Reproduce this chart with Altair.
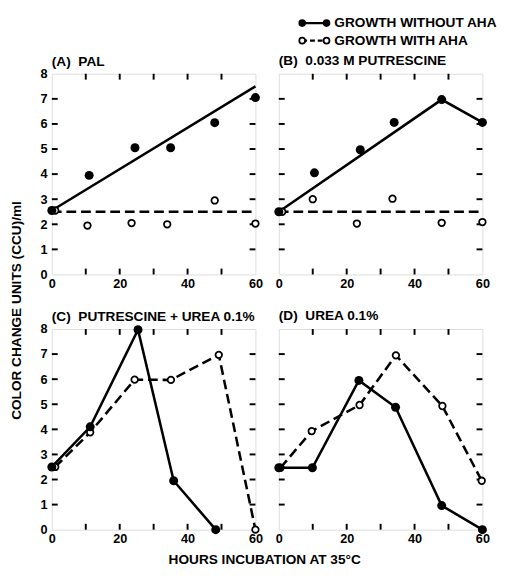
import altair as alt
import pandas as pd

FONT = "Liberation Sans"

# ---- data ----
x_ticks = [0, 10, 20, 30, 40, 50, 60]
x_labels = [0, 20, 40, 60]
y_ticks = [0, 1, 2, 3, 4, 5, 6, 7, 8]

NB = "\u00a0"
panel_titles = ["(A)" + NB * 2 + "PAL", "(B)" + NB * 2 + "0.033 M PUTRESCINE",
                "(C)" + NB * 2 + "PUTRESCINE + UREA 0.1%", "(D)" + NB * 2 + "UREA 0.1%"]

# growth without AHA (filled circles)
a_wo_x = [0, 11, 24.5, 35, 48, 60]
a_wo_y = [2.55, 3.95, 5.05, 5.05, 6.05, 7.05]
b_wo_x = [0, 10.5, 24, 34, 48, 60]
b_wo_y = [2.5, 4.05, 4.97, 6.06, 6.97, 6.06]
c_wo_x = [0, 11.3, 25.4, 35.9, 48.3]
c_wo_y = [2.5, 4.1, 7.97, 1.95, 0]
d_wo_x = [0, 9.9, 23.6, 34.4, 48, 60]
d_wo_y = [2.47, 2.47, 5.95, 4.88, 0.96, 0]

# growth with AHA (open circles)
a_w_x = [1, 10.5, 23.5, 34, 48, 60]
a_w_y = [2.55, 1.95, 2.05, 2.0, 2.95, 2.03]
b_w_x = [1, 10, 23, 33.5, 48, 60]
b_w_y = [2.5, 3.0, 2.03, 3.02, 2.06, 2.09]
c_w_x = [1, 11.3, 24.4, 35.1, 49.2, 60]
c_w_y = [2.5, 3.88, 5.98, 5.97, 6.97, 0]
d_w_x = [0.5, 9.7, 23.8, 34.5, 48.2, 59.8]
d_w_y = [2.47, 3.93, 4.97, 6.95, 4.93, 1.95]

# solid curves (fitted in A and B, connecting points in C and D)
a_solid_x = [0, 60]
a_solid_y = [2.55, 7.5]
b_solid_x = [0, 48, 60]
b_solid_y = [2.5, 6.97, 6.06]
c_solid_x, c_solid_y = c_wo_x, c_wo_y
d_solid_x, d_solid_y = d_wo_x, d_wo_y

# dashed curves
a_dash_x = [0, 60]
a_dash_y = [2.5, 2.5]
b_dash_x = [0, 60]
b_dash_y = [2.5, 2.5]
c_dash_x, c_dash_y = c_w_x, c_w_y
d_dash_x, d_dash_y = d_w_x, d_w_y

legend_labels = ["GROWTH WITHOUT AHA", "GROWTH WITH AHA"]

x_title = "HOURS INCUBATION AT 35°C"
y_title = "COLOR CHANGE UNITS (CCU)/ml"

# ---- build tables ----
src = {
    "A": (a_wo_x, a_wo_y, a_w_x, a_w_y, a_solid_x, a_solid_y, a_dash_x, a_dash_y),
    "B": (b_wo_x, b_wo_y, b_w_x, b_w_y, b_solid_x, b_solid_y, b_dash_x, b_dash_y),
    "C": (c_wo_x, c_wo_y, c_w_x, c_w_y, c_solid_x, c_solid_y, c_dash_x, c_dash_y),
    "D": (d_wo_x, d_wo_y, d_w_x, d_w_y, d_solid_x, d_solid_y, d_dash_x, d_dash_y),
}

W, H = 209, 206
TICK = 6
LBL = 13

xtick_df = pd.DataFrame({"x": x_ticks[1:-1]})
ytick_df = pd.DataFrame({"y": y_ticks[1:-1]})


def xenc():
    return alt.X("x:Q", scale=alt.Scale(domain=[0, 60], nice=False, zero=False),
                 axis=alt.Axis(values=x_labels, tickSize=0, domain=False, grid=False,
                               title=None, labelFont=FONT, labelFontWeight="bold",
                               labelFontSize=LBL, labelColor="black", labelPadding=3,
                               labelFlush=False))


def yenc(show):
    if show:
        ax = alt.Axis(values=y_ticks, tickSize=0, domain=False, grid=False, title=None,
                      labelFont=FONT, labelFontWeight="bold", labelFontSize=LBL,
                      labelColor="black", labelPadding=5, labelFlush=False)
        return alt.Y("y:Q", scale=alt.Scale(domain=[0, 8], nice=False), axis=ax)
    return alt.Y("y:Q", scale=alt.Scale(domain=[0, 8], nice=False), axis=None)


def panel(pid, title, show_y):
    wo_x, wo_y, w_x, w_y, s_x, s_y, d_x, d_y = src[pid]
    wo = pd.DataFrame({"x": wo_x, "y": wo_y})
    w = pd.DataFrame({"x": w_x, "y": w_y})
    sl = pd.DataFrame({"x": s_x, "y": s_y})
    dl = pd.DataFrame({"x": d_x, "y": d_y})

    solid = alt.Chart(sl).mark_line(color="black", strokeWidth=2.6).encode(
        x=xenc(), y=yenc(show_y))
    dashed = alt.Chart(dl).mark_line(color="black", strokeWidth=2.6,
                                     strokeDash=[10, 5]).encode(x=xenc(), y=yenc(show_y))
    filled = alt.Chart(wo).mark_point(filled=True, color="black", size=85,
                                      opacity=1).encode(x=xenc(), y=yenc(show_y))
    openp = alt.Chart(w).mark_point(shape="circle", fill="white", fillOpacity=1,
                                    stroke="black", strokeWidth=1.8, size=45,
                                    opacity=1).encode(x=xenc(), y=yenc(show_y))
    bt = alt.Chart(xtick_df).mark_rule(color="black", strokeWidth=2).encode(
        x=xenc(), y=alt.value(H), y2=alt.value(H - TICK))
    tt = alt.Chart(xtick_df).mark_rule(color="black", strokeWidth=2).encode(
        x=xenc(), y=alt.value(0), y2=alt.value(TICK))
    lt = alt.Chart(ytick_df).mark_rule(color="black", strokeWidth=2).encode(
        y=yenc(show_y), x=alt.value(0), x2=alt.value(TICK))
    rt = alt.Chart(ytick_df).mark_rule(color="black", strokeWidth=2).encode(
        y=yenc(show_y), x=alt.value(W), x2=alt.value(W - TICK))

    if show_y:
        tp = alt.TitleParams(title, anchor="start", frame="group", font=FONT,
                             fontSize=14, fontWeight="bold", color="black",
                             offset=0, dy=1)
    else:
        tp = alt.TitleParams(title, anchor="start", frame="group", font=FONT,
                             fontSize=14, fontWeight="bold", color="black", offset=5)
    return alt.layer(bt, tt, lt, rt, dashed, solid, openp, filled).properties(
        width=W, height=H, title=tp)


pA = panel("A", panel_titles[0], True)
pB = panel("B", panel_titles[1], False)
pC = panel("C", panel_titles[2], True)
pD = panel("D", panel_titles[3], False)

row1 = alt.hconcat(pA, pB, spacing=10)
row2 = alt.hconcat(pC, pD, spacing=10)
grid = alt.vconcat(row1, row2, spacing=18).properties(
    title=alt.TitleParams(x_title, orient="bottom", anchor="middle", font=FONT,
                          fontSize=14, fontWeight="bold", color="black", offset=8))

wrapped = alt.hconcat(grid).properties(
    title=alt.TitleParams(y_title, orient="left", anchor="middle", font=FONT,
                          fontSize=14, fontWeight="bold", color="black", offset=16))

# ---- manual legend ----
leg_df = pd.DataFrame({"label": legend_labels})
LX0, LX1, LTX = 257, 282, 290
ly = alt.Y("label:N", sort=legend_labels, axis=None,
           scale=alt.Scale(type="point", padding=0, range=[8, 26]))
leg_rule = alt.Chart(leg_df).mark_rule(color="black", strokeWidth=2.4).encode(
    y=ly, x=alt.value(LX0), x2=alt.value(LX1),
    strokeDash=alt.StrokeDash("label:N", sort=legend_labels,
                              scale=alt.Scale(domain=legend_labels,
                                              range=[[1, 0], [5, 3]]),
                              legend=None))
f_leg = alt.Chart(leg_df).transform_filter(alt.datum.label == legend_labels[0])
o_leg = alt.Chart(leg_df).transform_filter(alt.datum.label == legend_labels[1])
leg_pts = []
for xv in (LX0, LX1):
    leg_pts.append(f_leg.mark_point(filled=True, color="black", size=60, opacity=1)
                   .encode(y=ly, x=alt.value(xv)))
    leg_pts.append(o_leg.mark_point(shape="circle", fill="white", fillOpacity=1,
                                    stroke="black", strokeWidth=1.8, size=36, opacity=1)
                   .encode(y=ly, x=alt.value(xv)))
leg_text = alt.Chart(leg_df).mark_text(align="left", baseline="middle", font=FONT,
                                       fontSize=14, fontWeight="bold",
                                       color="black").encode(
    y=ly, x=alt.value(LTX), text="label:N")
legend = alt.layer(leg_rule, *leg_pts, leg_text).properties(
    width=430, height=31, view=alt.ViewBackground(strokeWidth=0, strokeOpacity=0))

chart = alt.vconcat(legend, wrapped, spacing=6).properties(
    padding={"left": 2, "top": 0, "right": 0, "bottom": 0}
).configure_view(stroke="black", strokeWidth=2).configure(background="white")

chart.save("out.html", embed_options={"renderer": "svg", "actions": False})
